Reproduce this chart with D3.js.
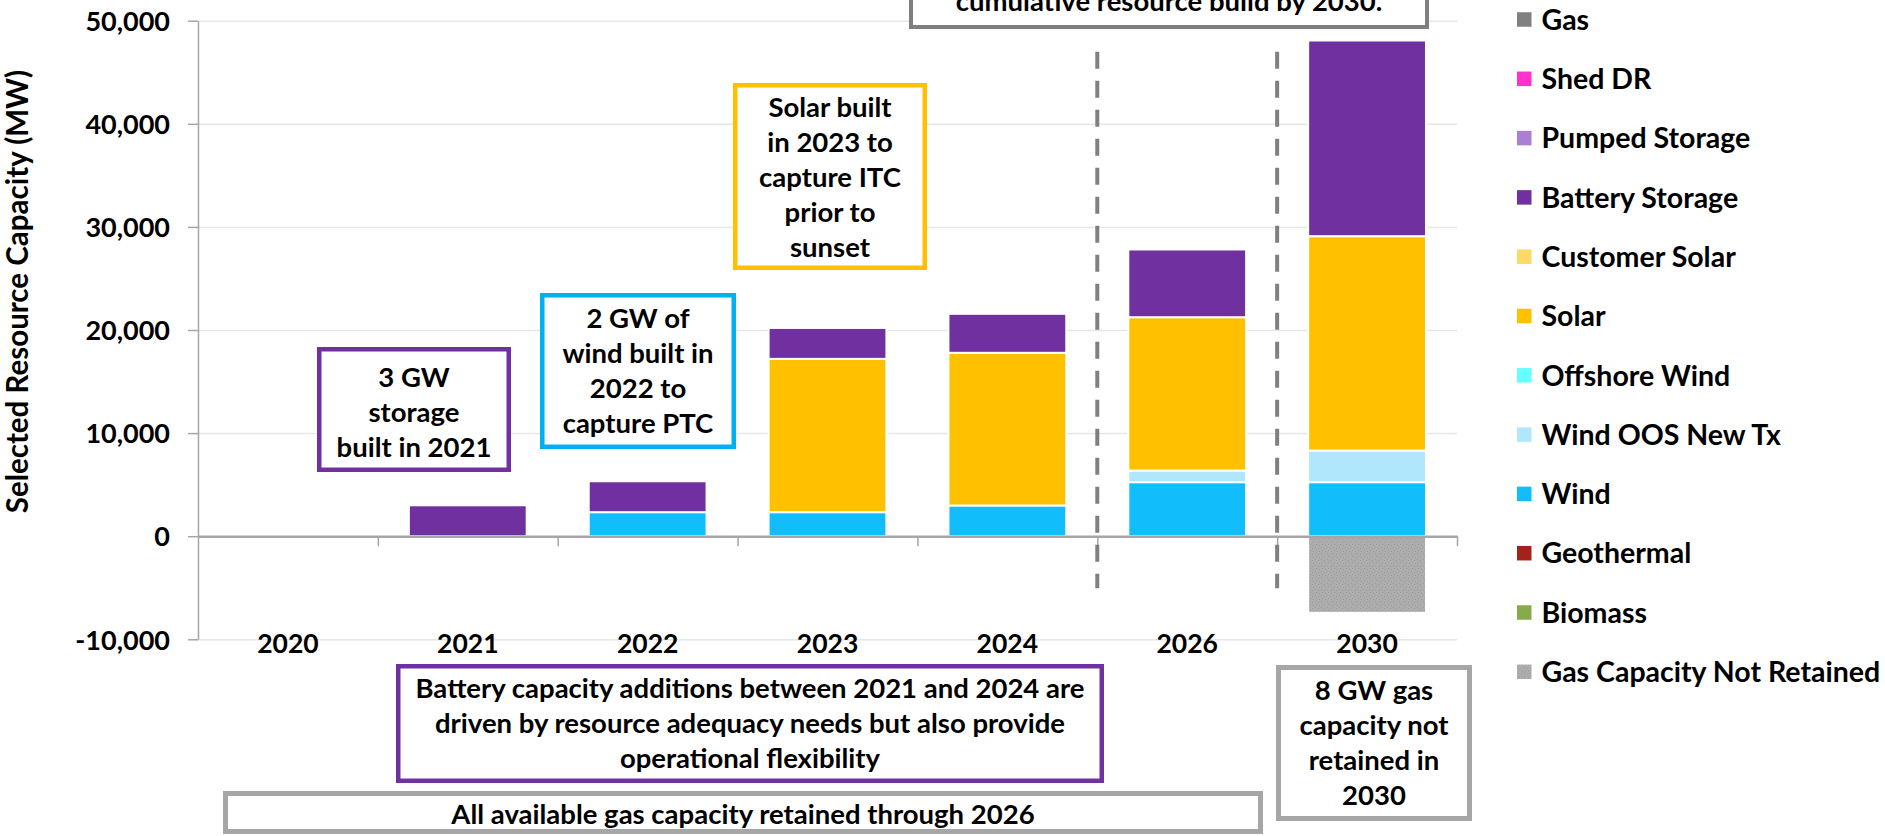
<!DOCTYPE html>
<html>
<head>
<meta charset="utf-8">
<script src="https://cdn.jsdelivr.net/npm/d3@7"></script>
<style>
  body { margin: 0; background: #fff; }
  svg text { font-family: Lato, "Open Sans", sans-serif; font-weight: bold; fill: #000; }
</style>
</head>
<body>
<svg width="1885" height="836"></svg>
<script>
// categories and values (MW, cumulative selected capacity)
var years = ["2020", "2021", "2022", "2023", "2024", "2026", "2030"];

var gas            = [0, 0, 0, 0, 0, 0, 0];
var shedDR         = [0, 0, 0, 0, 0, 0, 0];
var pumpedStorage  = [0, 0, 0, 0, 0, 0, 0];
var batteryStorage = [0, 3000, 3000, 3000, 3780, 6570, 18980];
var customerSolar  = [0, 0, 0, 0, 0, 0, 0];
var solar          = [0, 0, 0, 14870, 14810, 14870, 20790];
var offshoreWind   = [0, 0, 0, 0, 0, 0, 0];
var windOOS        = [0, 0, 0, 0, 0, 1130, 3070];
var wind           = [0, 0, 2330, 2330, 2980, 5240, 5240];
var geothermal     = [0, 0, 0, 0, 0, 0, 0];
var biomass        = [0, 0, 0, 0, 0, 0, 0];
var gasNotRetained = [0, 0, 0, 0, 0, 0, -7430];

var yTicks = [-10000, 0, 10000, 20000, 30000, 40000, 50000];

// legend order, top to bottom
var seriesNames = ["Gas", "Shed DR", "Pumped Storage", "Battery Storage", "Customer Solar", "Solar",
    "Offshore Wind", "Wind OOS New Tx", "Wind", "Geothermal", "Biomass", "Gas Capacity Not Retained"];
var seriesValues = [gas, shedDR, pumpedStorage, batteryStorage, customerSolar, solar,
    offshoreWind, windOOS, wind, geothermal, biomass, gasNotRetained];
var seriesColors = ["#808080", "#ff33cc", "#ac7fd6", "#7030a0", "#ffd966", "#ffc000",
    "#66ffff", "#b0e7fc", "#12bdfc", "#a3231a", "#86ab4a", "url(#stipple)"];

var dividers = [5, 6]; // dashed separators before 2026 and 2030

var notes = [
    { lines: ["3 GW", "storage", "built in 2021"], box: [317, 347, 511, 472], color: "#7030a0", sw: 4.5, first: 386.7 },
    { lines: ["2 GW of", "wind built in", "2022 to", "capture PTC"], box: [540, 293, 736, 449], color: "#00b0f0", sw: 4.5, first: 328.3 },
    { lines: ["Solar built", "in 2023 to", "capture ITC", "prior to", "sunset"], box: [733, 83, 927, 270], color: "#ffc000", sw: 4.5, first: 116.7 },
    { lines: ["cumulative resource build by 2030."], box: [909, -60, 1429, 29], color: "#7f7f7f", sw: 4, first: 11 },
    { lines: ["Battery capacity additions between 2021 and 2024 are",
              "driven by resource adequacy needs but also provide",
              "operational flexibility"], box: [396, 664, 1104, 783], color: "#7030a0", sw: 4.5, first: 698.3 },
    { lines: ["All available gas capacity retained through 2026"], box: [223, 791, 1263, 834], color: "#a6a6a6", sw: 5, first: 824 },
    { lines: ["8 GW gas", "capacity not", "retained in", "2030"], box: [1276, 665, 1472, 821], color: "#a6a6a6", sw: 5, first: 700 }
];

var svg = d3.select("svg");

var plotLeft = 198, plotRight = 1457, plotTop = 20.7, plotBottom = 639.3;

var x = d3.scaleBand()
    .domain(years)
    .range([plotLeft, plotRight])
    .paddingInner(0.345)
    .paddingOuter(0.1725);

var xIdx = d3.scaleLinear().domain([0, years.length]).range([plotLeft, plotRight]);

var y = d3.scaleLinear().domain([-10000, 50000]).range([plotBottom, plotTop]);

var fmt = function (d) { return d3.format(",")(d).replace("\u2212", "-"); };

// stipple texture for retired gas
var pat = svg.append("defs").append("pattern")
    .attr("id", "stipple")
    .attr("width", 6).attr("height", 6)
    .attr("patternUnits", "userSpaceOnUse");
pat.append("rect").attr("width", 6).attr("height", 6).attr("fill", "#adadad");
[[1, 1], [4, 2], [2, 4], [5, 5]].forEach(function (p) {
    pat.append("rect").attr("x", p[0]).attr("y", p[1]).attr("width", 1).attr("height", 1).attr("fill", "#9a9a9a");
});

// gridlines
svg.append("g")
    .attr("transform", "translate(" + plotLeft + ",0)")
    .call(d3.axisLeft(y).tickValues(yTicks).tickSize(-(plotRight - plotLeft)).tickFormat(""))
    .call(function (g) { g.select(".domain").remove(); })
    .selectAll("line")
    .attr("stroke", "#e6e6e6")
    .attr("stroke-width", 1.5);

// stacked bars
var table = years.map(function (yr, i) {
    var row = { year: yr };
    seriesNames.forEach(function (n, j) { row[n] = seriesValues[j][i]; });
    return row;
});

var stack = d3.stack()
    .keys(seriesNames.slice().reverse())
    .offset(d3.stackOffsetDiverging);

var layers = stack(table);

svg.append("g")
    .selectAll("g")
    .data(layers)
    .enter().append("g")
    .attr("fill", function (d) { return seriesColors[seriesNames.indexOf(d.key)]; })
    .selectAll("rect")
    .data(function (d) { return d.filter(function (s) { return s[1] !== s[0]; }); })
    .enter().append("rect")
    .attr("x", function (d) { return x(d.data.year); })
    .attr("width", x.bandwidth())
    .attr("y", function (d) { return y(d[1]); })
    .attr("height", function (d) { return y(d[0]) - y(d[1]); })
    .attr("stroke", "#fff")
    .attr("stroke-width", 2);

// zero line with category boundary ticks
var xAxis = svg.append("g")
    .attr("transform", "translate(0," + y(0) + ")")
    .call(d3.axisBottom(xIdx)
        .tickValues(d3.range(1, years.length + 1))
        .tickSize(10)
        .tickSizeOuter(0)
        .tickFormat(""));
xAxis.select(".domain").attr("stroke", "#a6a6a6").attr("stroke-width", 2.5);
xAxis.selectAll("line").attr("stroke", "#a6a6a6").attr("stroke-width", 1.5);

// year labels sit at the bottom of the plot
var yearAxis = svg.append("g")
    .attr("transform", "translate(0,653)")
    .call(d3.axisBottom(x).tickSize(0).tickPadding(0));
yearAxis.select(".domain").remove();
yearAxis.selectAll("text")
    .attr("y", 0)
    .attr("dy", 0)
    .attr("font-size", 26.5);

// y axis
var yAxis = svg.append("g")
    .attr("transform", "translate(" + plotLeft + ",0)")
    .call(d3.axisLeft(y).tickValues(yTicks).tickSize(10).tickSizeOuter(0).tickPadding(18).tickFormat(fmt));
yAxis.select(".domain").attr("stroke", "#a6a6a6").attr("stroke-width", 1.5);
yAxis.selectAll("line").attr("stroke", "#a6a6a6").attr("stroke-width", 1.5);
yAxis.selectAll("text").attr("font-size", 27).attr("dy", "0.36em");

svg.append("text")
    .attr("transform", "translate(28,291.5) rotate(-90)")
    .attr("text-anchor", "middle")
    .attr("font-size", 29.5)
    .text("Selected Resource Capacity (MW)");

// dashed separators
svg.append("g")
    .selectAll("line")
    .data(dividers)
    .enter().append("line")
    .attr("x1", function (d) { return xIdx(d); })
    .attr("x2", function (d) { return xIdx(d); })
    .attr("y1", 51.7)
    .attr("y2", 588.3)
    .attr("stroke", "#808080")
    .attr("stroke-width", 4)
    .attr("stroke-dasharray", "17,12");

// annotation boxes
var note = svg.append("g")
    .selectAll("g")
    .data(notes)
    .enter().append("g");

note.append("rect")
    .attr("x", function (d) { return d.box[0] + d.sw / 2; })
    .attr("y", function (d) { return d.box[1] + d.sw / 2; })
    .attr("width", function (d) { return d.box[2] - d.box[0] - d.sw; })
    .attr("height", function (d) { return d.box[3] - d.box[1] - d.sw; })
    .attr("fill", "#fff")
    .attr("stroke", function (d) { return d.color; })
    .attr("stroke-width", function (d) { return d.sw; });

note.each(function (d) {
    var cx = (d.box[0] + d.box[2]) / 2;
    d3.select(this).selectAll("text")
        .data(d.lines)
        .enter().append("text")
        .attr("x", cx)
        .attr("y", function (t, i) { return d.first + i * 35; })
        .attr("text-anchor", "middle")
        .attr("font-size", 27.5)
        .text(function (t) { return t; });
});

// legend
var legend = svg.append("g")
    .selectAll("g")
    .data(seriesNames)
    .enter().append("g")
    .attr("transform", function (d, i) { return "translate(1517," + (19.5 + i * 59.3) + ")"; });

legend.append("rect")
    .attr("x", 0)
    .attr("y", -7.25)
    .attr("width", 14.5)
    .attr("height", 14.5)
    .attr("fill", function (d, i) { return seriesColors[i]; });

legend.append("text")
    .attr("x", 24.5)
    .attr("dy", "0.36em")
    .attr("font-size", 28.5)
    .text(function (d) { return d; });
</script>
</body>
</html>
